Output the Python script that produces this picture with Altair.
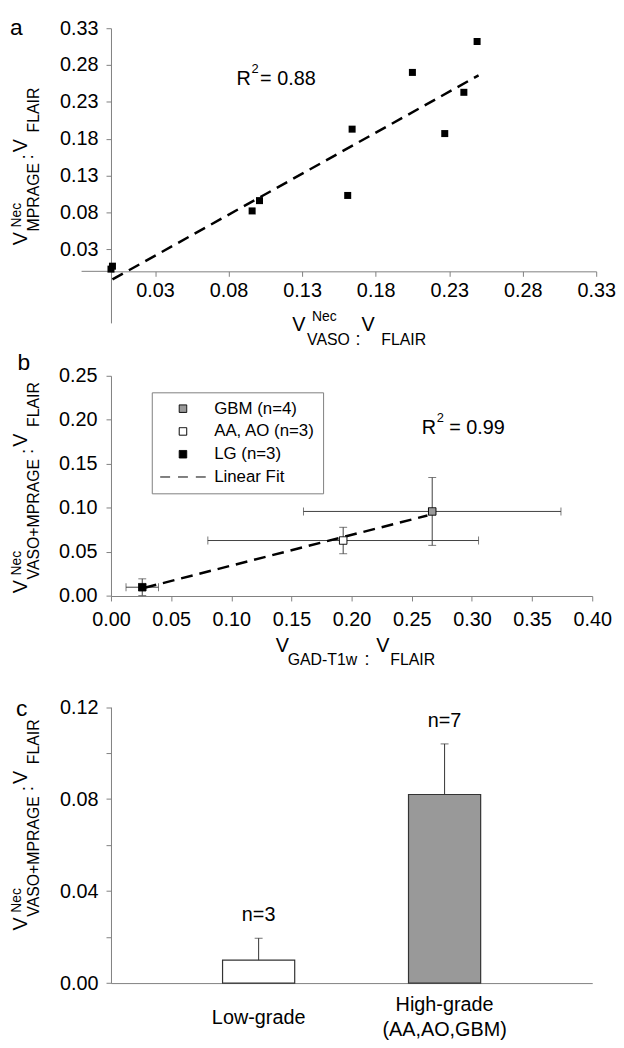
import altair as alt
import pandas as pd

FONT = "Liberation Sans"
AXIS_GRAY = "#808080"

# ---------------- data: panel a ----------------
a_x = [0.000, 0.001, 0.096, 0.101, 0.161, 0.164, 0.205, 0.227, 0.240, 0.249]
a_y = [0.003, 0.007, 0.082, 0.096, 0.103, 0.193, 0.270, 0.187, 0.243, 0.312]
a_fit_x = [0.001, 0.250]
a_fit_y = [-0.011, 0.266]
a_ticks = [0.03, 0.08, 0.13, 0.18, 0.23, 0.28, 0.33]
a_xdomain = [0.0, 0.33]
a_ydomain = [-0.07, 0.33]
a_xaxis_start = [-0.02]
a_r2 = "= 0.88"

# ---------------- data: panel b ----------------
b_groups = ["GBM (n=4)", "AA, AO (n=3)", "LG (n=3)"]
b_x = [0.267, 0.193, 0.026]
b_xerr = [0.107, 0.1125, 0.0135]
b_y = [0.096, 0.063, 0.010]
b_yerr = [0.0385, 0.015, 0.0095]
b_fit_x = [0.028, 0.263]
b_fit_y = [0.0094, 0.0914]
b_fit_name = "Linear Fit"
b_xticks = [0.00, 0.05, 0.10, 0.15, 0.20, 0.25, 0.30, 0.35, 0.40]
b_yticks = [0.00, 0.05, 0.10, 0.15, 0.20, 0.25]
b_r2 = "= 0.99"

# ---------------- data: panel c ----------------
c_cats = ["Low-grade", "High-grade\n(AA,AO,GBM)"]
c_vals = [0.010, 0.082]
c_errs = [0.0095, 0.022]
c_n = ["n=3", "n=7"]
c_yticks = [0.00, 0.02, 0.04, 0.06, 0.08, 0.10, 0.12]

# ---------------- geometry ----------------
W_A, H_A = 490, 297.6
W_B, H_B = 486, 222.4
W_C, H_C, C_TOP = 486, 337.3, 58.6

# symbol paths (unit box -1..1), drawn at a common symbol size
SQ = "M-0.165,-0.165H0.165V0.165H-0.165Z"
LINE = "M-1,0H1"
SYM_SIZE = 2116


def piece(text, x, y, size, angle=0, align="left", baseline="alphabetic"):
    kw = dict(font=FONT, fontSize=size, color="black", align=align, baseline=baseline)
    if angle:
        kw["angle"] = angle
    return alt.Chart(pd.DataFrame({"t": [text]})).mark_text(**kw).encode(
        x=alt.value(x), y=alt.value(y), text="t:N")


def ytitle(sub, v1, sup, subp, colon, v2, fl):
    # rotated composite title V^Nec_sub : V_FLAIR
    return [
        piece("V", -85, v1, 20, angle=270),
        piece("Nec", -91, sup, 14, angle=270),
        piece(sub, -73, subp, 16, angle=270),
        piece(":", -79, colon, 18, angle=270),
        piece("V", -85, v2, 20, angle=270),
        piece("FLAIR", -73, fl, 16, angle=270),
    ]


# ================= panel a =================
xa = alt.X("x:Q", scale=alt.Scale(domain=a_xdomain, nice=False, zero=False),
           axis=alt.Axis(values=a_ticks, format=".2f", offset=-H_A * 0.07 / 0.40,
                         labelPadding=4, title=None))
ya = alt.Y("y:Q", scale=alt.Scale(domain=a_ydomain, nice=False, zero=False),
           axis=alt.Axis(values=a_ticks, format=".2f", labelPadding=8, title=None))

a_pts = alt.Chart(pd.DataFrame({"x": a_x, "y": a_y})).mark_point(
    shape="square", filled=True, size=50, color="black", opacity=1).encode(x=xa, y=ya)
a_fit = alt.Chart(pd.DataFrame({"x": a_fit_x, "y": a_fit_y})).mark_line(
    color="black", strokeWidth=2.5, strokeDash=[12, 7]).encode(x=xa, y=ya)
a_ext = alt.Chart(pd.DataFrame({"x": a_xaxis_start, "x2": [0.0], "y": [0.0]})).mark_rule(
    color=AXIS_GRAY, strokeWidth=1).encode(x=xa, x2="x2:Q", y=ya)

a_texts = [
    piece("a", -95.5, 6.8, 23, align="center"),
    piece("R", 126.8, 57.3, 20), piece("2", 142, 45.3, 13), piece(a_r2, 150.6, 57.3, 20),
    piece("V", 183, 305.3, 20), piece("Nec", 203, 295.3, 14), piece("VASO", 198, 320.3, 16),
    piece(":", 247, 320.3, 18), piece("V", 253, 305.3, 20), piece("FLAIR", 273, 320.3, 16),
] + ytitle("MPRAGE", 219.3, 201.3, 205.3, 132.3, 125.3, 105.3)

A = alt.layer(a_ext, a_fit, a_pts, *a_texts).properties(width=W_A, height=H_A)

# ================= panel b =================
xb = alt.X("x:Q", scale=alt.Scale(domain=[0, 0.40], nice=False),
           axis=alt.Axis(values=b_xticks, format=".2f", labelPadding=9, title=None))
yb = alt.Y("y:Q", scale=alt.Scale(domain=[0, 0.25], nice=False),
           axis=alt.Axis(values=b_yticks, format=".2f", labelPadding=9, title=None))

b_df = pd.DataFrame({"g": b_groups, "x": b_x, "xerr": b_xerr, "y": b_y, "yerr": b_yerr})
b_base = alt.Chart(b_df).transform_calculate(
    xlo="datum.x - datum.xerr", xhi="datum.x + datum.xerr",
    ylo="datum.y - datum.yerr", yhi="datum.y + datum.yerr")

ERR = "#404040"
b_hbar = b_base.mark_rule(color=ERR, strokeWidth=1).encode(x=alt.X("xlo:Q"), x2="xhi:Q", y=yb)
b_vbar = b_base.mark_rule(color=ERR, strokeWidth=1).encode(x=xb, y=alt.Y("ylo:Q"), y2="yhi:Q")
b_cap_xl = b_base.mark_tick(color=ERR, orient="vertical", size=8, thickness=1).encode(x=alt.X("xlo:Q"), y=yb)
b_cap_xh = b_base.mark_tick(color=ERR, orient="vertical", size=8, thickness=1).encode(x=alt.X("xhi:Q"), y=yb)
b_cap_yl = b_base.mark_tick(color=ERR, orient="horizontal", size=8, thickness=1).encode(x=xb, y=alt.Y("ylo:Q"))
b_cap_yh = b_base.mark_tick(color=ERR, orient="horizontal", size=8, thickness=1).encode(x=xb, y=alt.Y("yhi:Q"))

b_fit = alt.Chart(pd.DataFrame({"x": b_fit_x, "y": b_fit_y})).mark_line(
    color="black", strokeWidth=2.5, strokeDash=[12, 7]).encode(x=xb, y=yb)

leg_dom = b_groups + [b_fit_name]
leg = alt.Legend(orient="none", legendX=41.2, legendY=16.7, title=None,
                 strokeColor=AXIS_GRAY, fillColor="white", padding=8,
                 labelFont=FONT, labelFontSize=17, labelColor="black", labelOffset=8,
                 rowPadding=5, clipHeight=17, symbolSize=SYM_SIZE,
                 symbolStrokeWidth=1)
b_pts = alt.Chart(b_df).mark_point(filled=True, strokeWidth=1, opacity=1, size=SYM_SIZE).encode(
    x=xb, y=yb,
    fill=alt.Fill("g:N", scale=alt.Scale(domain=leg_dom, range=["#999999", "#ffffff", "#000000", "#ffffff"]), legend=leg),
    stroke=alt.Stroke("g:N", scale=alt.Scale(domain=leg_dom, range=["#000000"] * 4), legend=leg),
    shape=alt.Shape("g:N", scale=alt.Scale(domain=leg_dom, range=[SQ, SQ, SQ, LINE]), legend=leg),
    strokeDash=alt.StrokeDash("g:N", scale=alt.Scale(domain=leg_dom, range=[[1, 0], [1, 0], [1, 0], [10, 8]]), legend=leg),
)

b_texts = [
    piece("b", -88, -6.3, 23, align="center"),
    piece("R", 313.8, 58.4, 20), piece("2", 329, 46.7, 13), piece(b_r2, 341.6, 58.4, 20),
    piece("V", 166.5, 278.7, 20), piece("GAD-T1w", 178.5, 291.7, 16),
    piece(":", 256, 291.7, 18), piece("V", 268, 278.7, 20), piece("FLAIR", 282, 291.7, 16),
] + ytitle("VASO+MPRAGE", 219.7, 201.7, 205.7, 78.7, 71.7, 51.7)

B = alt.layer(b_hbar, b_vbar, b_cap_xl, b_cap_xh, b_cap_yl, b_cap_yh, b_fit, b_pts, *b_texts).properties(
    width=W_B, height=H_B)

# ================= panel c =================
c_df = pd.DataFrame({"cat": c_cats, "v": c_vals, "err": c_errs, "n": c_n})
c_base = alt.Chart(c_df).transform_calculate(top="datum.v + datum.err")

xc = alt.X("cat:N", sort=c_cats,
           scale=alt.Scale(domain=c_cats, paddingInner=0.612, paddingOuter=0.6),
           axis=alt.Axis(labels=False, ticks=False, title=None))
yc = alt.Y("v:Q", scale=alt.Scale(domain=[0, 0.12], range=[H_C, C_TOP], nice=False),
           axis=alt.Axis(values=c_yticks, title=None, labelPadding=8,
                         labelExpr="(round(datum.value*100) % 4 == 0) ? format(datum.value, '.2f') : ''"))

c_bars = c_base.mark_bar(stroke="#333333", strokeWidth=1.2).encode(
    x=xc, y=yc,
    fill=alt.Fill("cat:N", scale=alt.Scale(domain=c_cats, range=["#ffffff", "#999999"]), legend=None))
c_err = c_base.mark_rule(color="#333333", strokeWidth=1).encode(x=xc, y=yc, y2="top:Q")
c_cap = c_base.mark_tick(color="#333333", orient="horizontal", size=8, thickness=1).encode(
    x=xc, y=alt.Y("top:Q"))
c_nlab = c_base.mark_text(font=FONT, fontSize=20, color="black", dy=-17.5, baseline="alphabetic").encode(
    x=xc, y=alt.Y("top:Q"), text="n:N")
# one-line category labels are centred on the middle of the two-line ones
c_catlab1 = c_base.transform_filter("indexof(datum.cat, '\\n') < 0").mark_text(
    font=FONT, fontSize=20, color="black", baseline="middle").encode(
    x=xc, y=alt.value(372.3), text="cat:N")
c_catlab2 = c_base.transform_filter("indexof(datum.cat, '\\n') >= 0").mark_text(
    font=FONT, fontSize=20, color="black", baseline="middle", lineBreak="\n", lineHeight=25).encode(
    x=xc, y=alt.value(372.3 - 12.5), text="cat:N")

c_texts = [piece("c", -90.3, 67.3, 23, align="center")] + \
    ytitle("VASO+MPRAGE", 284.3, 266.3, 270.3, 143.3, 136.3, 116.3)

C = alt.layer(c_bars, c_err, c_cap, c_nlab, c_catlab1, c_catlab2, *c_texts).properties(width=W_C, height=H_C)

chart = alt.vconcat(A, B, C, spacing=53, bounds="flush").resolve_scale(
    fill="independent", stroke="independent", shape="independent", strokeDash="independent"
).resolve_legend(
    fill="independent", stroke="independent", shape="independent", strokeDash="independent"
).properties(
    padding={"left": 2, "top": 3.3, "right": 0, "bottom": 0}
).configure_view(
    stroke=None
).configure_axis(
    labelFont=FONT, labelFontSize=20, labelColor="black", domainColor=AXIS_GRAY,
    tickColor=AXIS_GRAY, tickSize=5, grid=False, domainWidth=1, tickWidth=1,
    labelFlush=False, labelOverlap=False
)

chart.save("out.html", embed_options={"renderer": "svg", "actions": False})
